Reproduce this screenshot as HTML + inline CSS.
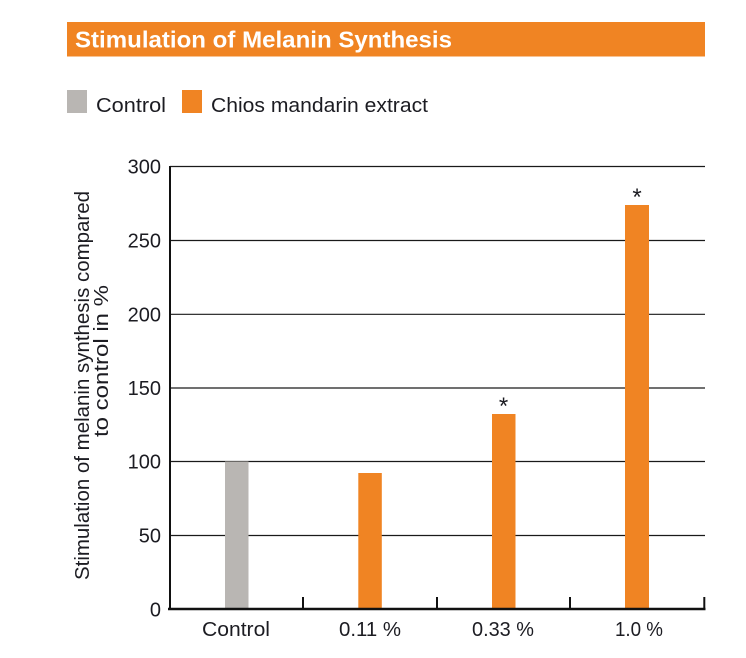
<!DOCTYPE html>
<html>
<head>
<meta charset="utf-8">
<style>
  html, body { margin: 0; padding: 0; background: #ffffff; }
  body { width: 746px; height: 658px; overflow: hidden; }
  svg { display: block; }
  text { font-family: "Liberation Sans", "DejaVu Sans", sans-serif; fill: #1c1c22; }
</style>
</head>
<body>
<svg width="746" height="658" viewBox="0 0 746 658" xmlns="http://www.w3.org/2000/svg">
  <!-- Title bar -->
  <rect x="67" y="22" width="638" height="34.5" fill="#F08423"/>
  <text x="75" y="47.5" font-size="23" font-weight="bold" style="fill:#ffffff" textLength="377" lengthAdjust="spacingAndGlyphs">Stimulation of Melanin Synthesis</text>

  <!-- Legend -->
  <rect x="67" y="90" width="20" height="23" fill="#B9B6B3"/>
  <text x="96" y="112" font-size="20" textLength="70" lengthAdjust="spacingAndGlyphs">Control</text>
  <rect x="182" y="90" width="20" height="23" fill="#F08423"/>
  <text x="211" y="112" font-size="20" textLength="217" lengthAdjust="spacingAndGlyphs">Chios mandarin extract</text>

  <!-- Gridlines -->
  <g stroke="#1a1a1a" stroke-width="1.2">
    <line x1="170" y1="166.5" x2="705" y2="166.5"/>
    <line x1="170" y1="240.5" x2="705" y2="240.5"/>
    <line x1="170" y1="314.3" x2="705" y2="314.3"/>
    <line x1="170" y1="388" x2="705" y2="388"/>
    <line x1="170" y1="461.5" x2="705" y2="461.5"/>
    <line x1="170" y1="535.5" x2="705" y2="535.5"/>
  </g>

  <!-- Bars -->
  <rect x="225" y="461.5" width="23.5" height="147.5" fill="#B9B6B3"/>
  <rect x="358.3" y="473" width="23.5" height="136" fill="#F08423"/>
  <rect x="492" y="414" width="23.5" height="195" fill="#F08423"/>
  <rect x="625" y="205" width="24" height="404" fill="#F08423"/>

  <!-- Asterisks -->
  <text x="503.5" y="414" font-size="24" text-anchor="middle">*</text>
  <text x="637" y="205" font-size="24" text-anchor="middle">*</text>

  <!-- Axes -->
  <line x1="170" y1="166" x2="170" y2="610" stroke="#111" stroke-width="2"/>
  <line x1="168" y1="609" x2="705.5" y2="609" stroke="#111" stroke-width="2.5"/>
  <g stroke="#111" stroke-width="2">
    <line x1="303" y1="597" x2="303" y2="609"/>
    <line x1="437" y1="597" x2="437" y2="609"/>
    <line x1="570" y1="597" x2="570" y2="609"/>
    <line x1="704.3" y1="597" x2="704.3" y2="609"/>
  </g>

  <!-- Y tick labels -->
  <g font-size="20" text-anchor="end">
    <text x="161" y="173.5">300</text>
    <text x="161" y="247.5">250</text>
    <text x="161" y="321.5">200</text>
    <text x="161" y="395">150</text>
    <text x="161" y="468.5">100</text>
    <text x="161" y="542.5">50</text>
    <text x="161" y="616.5">0</text>
  </g>

  <!-- X tick labels -->
  <text x="202" y="636" font-size="20" textLength="68" lengthAdjust="spacingAndGlyphs">Control</text>
  <text x="339" y="636" font-size="20" textLength="62" lengthAdjust="spacingAndGlyphs">0.11 %</text>
  <text x="472" y="636" font-size="20" textLength="62" lengthAdjust="spacingAndGlyphs">0.33 %</text>
  <text x="615" y="636" font-size="20" textLength="48" lengthAdjust="spacingAndGlyphs">1.0 %</text>

  <!-- Y axis title -->
  <text transform="translate(89,580) rotate(-90)" font-size="20" textLength="389" lengthAdjust="spacingAndGlyphs">Stimulation of melanin synthesis compared</text>
  <text transform="translate(108,437) rotate(-90)" font-size="20" textLength="152" lengthAdjust="spacingAndGlyphs">to control in %</text>
</svg>
</body>
</html>
